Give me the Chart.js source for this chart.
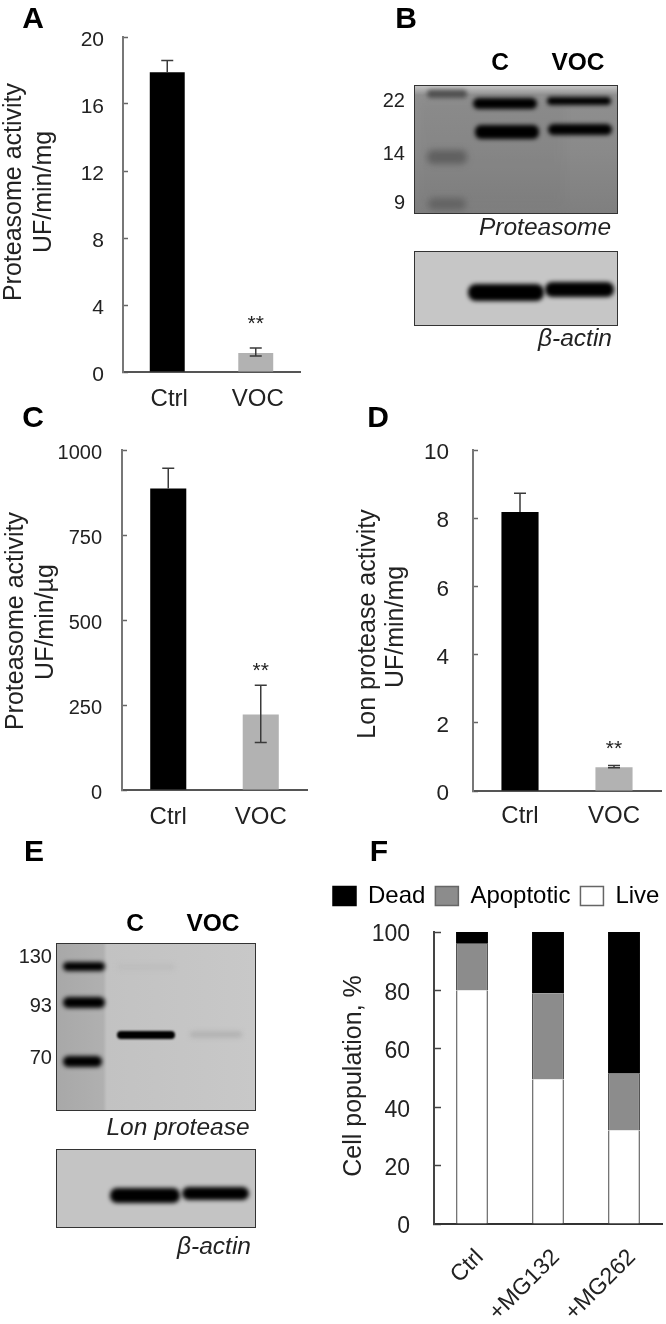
<!DOCTYPE html>
<html>
<head>
<meta charset="utf-8">
<script src="https://cdn.jsdelivr.net/npm/chart.js@4"></script>
<style>
    html, body { margin: 0; padding: 0; background: #fff; }
    #page { position: relative; width: 666px; height: 1324px; overflow: hidden; font-family: "Liberation Sans", Arial, sans-serif; color: #222; filter: blur(0.45px); }
    canvas { position: absolute; }
    .t { position: absolute; white-space: nowrap; transform: translate(-50%, -50%); line-height: 1; }
    .r { transform: translate(-100%, -50%); font-size: 20px; }
    .letter { font-weight: bold; font-size: 30px; color: #000; }
    .lane { font-weight: bold; font-size: 24.5px; color: #000; }
    .cap { font-style: italic; font-size: 24.5px; }
    .blot { position: absolute; box-sizing: border-box; border: 1.5px solid #333; overflow: hidden; }
    .band { position: absolute; background: #000; border-radius: 6px; filter: blur(2px); }
</style>
</head>
<body>
<div id="page">
    <canvas id="chartA" style="left:0;top:30px" width="320" height="385"></canvas>
    <canvas id="chartC" style="left:0;top:440px" width="330" height="395"></canvas>
    <canvas id="chartD" style="left:340px;top:440px" width="326" height="395"></canvas>
    <canvas id="chartF" style="left:323px;top:874px" width="343" height="450"></canvas>

    <div class="t letter" style="left:33px;top:18px">A</div>
    <div class="t letter" style="left:406px;top:18px">B</div>
    <div class="t letter" style="left:33px;top:417px">C</div>
    <div class="t letter" style="left:378px;top:417px">D</div>
    <div class="t letter" style="left:34px;top:851px">E</div>
    <div class="t letter" style="left:379px;top:851px">F</div>

    <!-- B blots -->
    <div class="t lane" style="left:500px;top:62px">C</div>
    <div class="t lane" style="left:578px;top:62px">VOC</div>
    <div class="t r" style="left:405px;top:100px">22</div>
    <div class="t r" style="left:405px;top:153px">14</div>
    <div class="t r" style="left:405px;top:202px">9</div>
    <div class="blot" style="left:414px;top:85px;width:204px;height:129px;background:linear-gradient(#c4c4c4 0,#8f8f8f 9px,#8a8a8a 50%,#7f7f7f 100%)">
        <div class="band" style="left:4px;top:14px;width:146px;height:110px;background:#6f6f6f;opacity:.12;filter:blur(5px);border-radius:0"></div>
        <div class="band" style="left:12px;top:4px;width:40px;height:8px;background:#505050"></div>
        <div class="band" style="left:12px;top:64px;width:40px;height:14px;background:#606060;filter:blur(3px)"></div>
        <div class="band" style="left:13px;top:112px;width:38px;height:12px;background:#646464;filter:blur(3px)"></div>
        <div class="band" style="left:58px;top:12px;width:64px;height:11px"></div>
        <div class="band" style="left:132px;top:11px;width:64px;height:8px"></div>
        <div class="band" style="left:60px;top:39px;width:64px;height:14px"></div>
        <div class="band" style="left:133px;top:38px;width:64px;height:11px"></div>
    </div>
    <div class="t cap" style="left:545px;top:227px">Proteasome</div>
    <div class="blot" style="left:414px;top:251px;width:204px;height:75px;background:#c6c6c6">
        <div class="band" style="left:53px;top:32px;width:76px;height:17px;border-radius:8px"></div>
        <div class="band" style="left:130px;top:30px;width:69px;height:15px;border-radius:7px"></div>
    </div>
    <div class="t cap" style="left:575px;top:338px">β-actin</div>

    <!-- E blots -->
    <div class="t lane" style="left:135px;top:923px">C</div>
    <div class="t lane" style="left:213px;top:923px">VOC</div>
    <div class="t r" style="left:52px;top:956px">130</div>
    <div class="t r" style="left:52px;top:1005px">93</div>
    <div class="t r" style="left:52px;top:1057px">70</div>
    <div class="blot" style="left:56px;top:943px;width:200px;height:168px;background:linear-gradient(90deg,#a8a8a8 0,#b0b0b0 46px,#c2c2c2 50px,#c8c8c8 100%)">
        <div class="band" style="left:6px;top:18px;width:42px;height:9px"></div>
        <div class="band" style="left:6px;top:53px;width:42px;height:11px"></div>
        <div class="band" style="left:6px;top:112px;width:39px;height:11px"></div>
        <div class="band" style="left:60px;top:87px;width:58px;height:8px;filter:blur(1.2px)"></div>
        <div class="band" style="left:133px;top:87px;width:52px;height:7px;background:#b4b4b4"></div>
        <div class="band" style="left:60px;top:20px;width:58px;height:6px;background:#bdbdbd"></div>
    </div>
    <div class="t cap" style="left:178px;top:1127px">Lon protease</div>
    <div class="blot" style="left:56px;top:1149px;width:200px;height:79px;background:#c4c4c4">
        <div class="band" style="left:53px;top:38px;width:70px;height:15px;border-radius:7px"></div>
        <div class="band" style="left:125px;top:37px;width:67px;height:13px;border-radius:7px"></div>
    </div>
    <div class="t cap" style="left:214px;top:1246px">β-actin</div>
</div>

<script>
const barLabels = ['Ctrl', 'VOC'];
const barColors = ['#000000', '#b2b2b2'];

const valuesA = [17.9, 1.13];
const errHighA = [18.6, 1.43];
const errLowA = [17.9, 0.95];
const starsA = [null, 3.2];
const ticksA = [0, 4, 8, 12, 16, 20];

const valuesC = [887, 222];
const errHighC = [946, 308];
const errLowC = [887, 140];
const starsC = [null, 367];
const ticksC = [0, 250, 500, 750, 1000];

const valuesD = [8.18, 0.7];
const errHighD = [8.73, 0.75];
const errLowD = [8.18, 0.68];
const starsD = [null, 1.4];
const ticksD = [0, 2, 4, 6, 8, 10];

const cellLabels = ['Ctrl', '+MG132', '+MG262'];
const cellLive = [80, 49.5, 32];
const cellApoptotic = [16, 29.5, 19.5];
const cellDead = [4, 21, 48.5];
const ticksF = [0, 20, 40, 60, 80, 100];

const fontName = '"Liberation Sans", Arial, sans-serif';

// error bars, stars and the two line y titles
const panelMarks = {
    id: 'panelMarks',
    afterDatasetsDraw: function (chart, args, opts) {
        const ctx = chart.ctx;
        const x = chart.scales.x;
        const y = chart.scales.y;
        ctx.save();
        if (opts.errHigh) {
            ctx.strokeStyle = '#3a3a3a';
            ctx.lineWidth = 1.5;
            for (let i = 0; i < opts.errHigh.length; i++) {
                let px = x.getPixelForValue(i);
                let top = y.getPixelForValue(opts.errHigh[i]);
                let low = y.getPixelForValue(opts.errLow[i]);
                ctx.beginPath();
                ctx.moveTo(px, top);
                ctx.lineTo(px, low);
                ctx.moveTo(px - 6, top);
                ctx.lineTo(px + 6, top);
                if (opts.errLow[i] !== chart.data.datasets[0].data[i]) {
                    ctx.moveTo(px - 6, low);
                    ctx.lineTo(px + 6, low);
                }
                ctx.stroke();
            }
        }
        if (opts.stars) {
            ctx.fillStyle = '#222';
            ctx.font = '21px ' + fontName;
            ctx.textAlign = 'center';
            ctx.textBaseline = 'alphabetic';
            for (let i = 0; i < opts.stars.length; i++) {
                if (opts.stars[i] !== null) {
                    ctx.fillText('**', x.getPixelForValue(i), y.getPixelForValue(opts.stars[i]) + 12);
                }
            }
        }
        ctx.fillStyle = '#222';
        ctx.font = '25px ' + fontName;
        ctx.textAlign = 'center';
        ctx.textBaseline = 'alphabetic';
        opts.titles.forEach(function (t) {
            ctx.save();
            ctx.translate(t.x, t.y);
            ctx.rotate(-Math.PI / 2);
            ctx.fillText(t.text, 0, 0);
            ctx.restore();
        });
        ctx.restore();
    }
};

function axisOptions(box, tickValues, tickSize, tickPad, labelShift) {
    return {
        x: {
            afterFit: function (scale) { scale.height = box.bottomSpace; },
            grid: { display: false },
            border: { display: true, color: '#555', width: 2 },
            ticks: { color: '#222', font: { family: fontName, size: 24 }, padding: box.labelPad, maxRotation: 0, minRotation: 0, labelOffset: labelShift }
        },
        y: {
            min: tickValues[0],
            max: tickValues[tickValues.length - 1],
            afterFit: function (scale) {
                scale.width = box.leftSpace;
                scale.paddingTop = 0;
                scale.paddingBottom = 0;
            },
            afterBuildTicks: function (scale) {
                scale.ticks = tickValues.map(function (v) { return { value: v }; });
            },
            grid: { drawOnChartArea: false, drawTicks: true, tickLength: -5, tickColor: '#666', tickWidth: 1.5 },
            border: { display: true, color: '#777', width: 2 },
            ticks: {
                color: '#222',
                font: { family: fontName, size: tickSize },
                padding: tickPad + 5,
                labelOffset: 3,
                callback: function (value) { return String(value); }
            }
        }
    };
}

function createBarChart(elemId, values, box, marks, scales) {
    return new Chart(document.getElementById(elemId), {
        type: 'bar',
        data: {
            labels: barLabels,
            datasets: [{
                data: values,
                backgroundColor: barColors,
                barPercentage: box.barShare,
                categoryPercentage: 1
            }]
        },
        options: {
            responsive: false,
            animation: false,
            layout: { autoPadding: false, padding: { top: box.top, right: box.right, left: 0, bottom: 0 } },
            scales: scales,
            plugins: { legend: { display: false }, tooltip: { enabled: false }, panelMarks: marks }
        },
        plugins: [panelMarks]
    });
}

function createStackChart() {
    new Chart(document.getElementById('chartF'), {
        type: 'bar',
        data: {
            labels: cellLabels,
            datasets: [
                { label: 'Live', data: cellLive, backgroundColor: '#ffffff', borderColor: '#6a6a6a', borderWidth: { left: 1.5, right: 1.5, top: 0, bottom: 0 } },
                { label: 'Apoptotic', data: cellApoptotic, backgroundColor: '#8c8c8c', borderColor: '#444', borderWidth: { left: 1.5, right: 1.5, top: 0, bottom: 2 } },
                { label: 'Dead', data: cellDead, backgroundColor: '#000000', borderColor: '#000', borderWidth: 0 }
            ]
        },
        options: {
            responsive: false,
            animation: false,
            layout: { autoPadding: false, padding: { top: 0, right: 4, left: 0, bottom: 0 } },
            datasets: { bar: { barPercentage: 0.42, categoryPercentage: 1 } },
            scales: {
                x: {
                    stacked: true,
                    afterFit: function (scale) { scale.height = 100; },
                    grid: { display: false },
                    border: { display: true, color: '#333', width: 2 },
                    ticks: { color: '#222', font: { family: fontName, size: 23 }, padding: 12, minRotation: 45, maxRotation: 45, labelOffset: 8 }
                },
                y: {
                    stacked: true,
                    min: 0,
                    max: 100,
                    afterFit: function (scale) {
                        scale.width = 111;
                        scale.paddingTop = 0;
                        scale.paddingBottom = 0;
                    },
                    afterBuildTicks: function (scale) {
                        scale.ticks = ticksF.map(function (v) { return { value: v }; });
                    },
                    grid: { drawOnChartArea: false, drawTicks: true, tickLength: -7, tickColor: '#444', tickWidth: 1.5 },
                    border: { display: true, color: '#444', width: 2 },
                    ticks: { color: '#222', font: { family: fontName, size: 23 }, padding: 31, labelOffset: 3 }
                }
            },
            plugins: {
                tooltip: { enabled: false },
                legend: {
                    position: 'top',
                    align: 'start',
                    reverse: true,
                    onClick: null,
                    labels: {
                        color: '#222',
                        font: { family: fontName, size: 24 },
                        boxWidth: 23,
                        boxHeight: 19,
                        padding: 10,
                        generateLabels: function (chart) {
                            return chart.data.datasets.map(function (d, i) {
                                return {
                                    text: d.label,
                                    fillStyle: d.backgroundColor,
                                    strokeStyle: i === 2 ? '#000' : '#666',
                                    lineWidth: 1.5,
                                    datasetIndex: i
                                };
                            });
                        }
                    }
                },
                panelMarks: { titles: [{ text: 'Cell population, %', x: 38, y: 202 }] }
            }
        },
        plugins: [panelMarks, {
            // keep the legend on one row and leave space under it
            id: 'legendSpace',
            beforeInit: function (chart) {
                const fit = chart.legend.fit;
                chart.legend.fit = function () {
                    this.maxWidth = 420;
                    fit.bind(chart.legend)();
                    this.height = 58;
                };
            },
            beforeDraw: function (chart) {
                chart.legend.right = chart.width + 80;
            }
        }]
    });
}

const boxA = { top: 7, right: 20, leftSpace: 123, bottomSpace: 43, barShare: 0.395, labelPad: 5 };
createBarChart('chartA', valuesA, boxA, {
    errHigh: errHighA, errLow: errLowA, stars: starsA,
    titles: [{ text: 'Proteasome activity', x: 21, y: 162 }, { text: 'UF/min/mg', x: 51, y: 162 }]
}, axisOptions(boxA, ticksA, 21, 19, 2));

const boxC = { top: 10, right: 23, leftSpace: 122, bottomSpace: 45, barShare: 0.39, labelPad: 5 };
createBarChart('chartC', valuesC, boxC, {
    errHigh: errHighC, errLow: errLowC, stars: starsC,
    titles: [{ text: 'Proteasome activity', x: 23, y: 181 }, { text: 'UF/min/µg', x: 53, y: 182 }]
}, axisOptions(boxC, ticksC, 20, 20, 0));

const boxD = { top: 10, right: 5, leftSpace: 133, bottomSpace: 44, barShare: 0.395, labelPad: 3 };
createBarChart('chartD', valuesD, boxD, {
    errHigh: errHighD, errLow: errLowD, stars: starsD,
    titles: [{ text: 'Lon protease activity', x: 35, y: 184 }, { text: 'UF/min/mg', x: 63, y: 187 }]
}, axisOptions(boxD, ticksD, 22.5, 24, 0));

createStackChart();
</script>
</body>
</html>
